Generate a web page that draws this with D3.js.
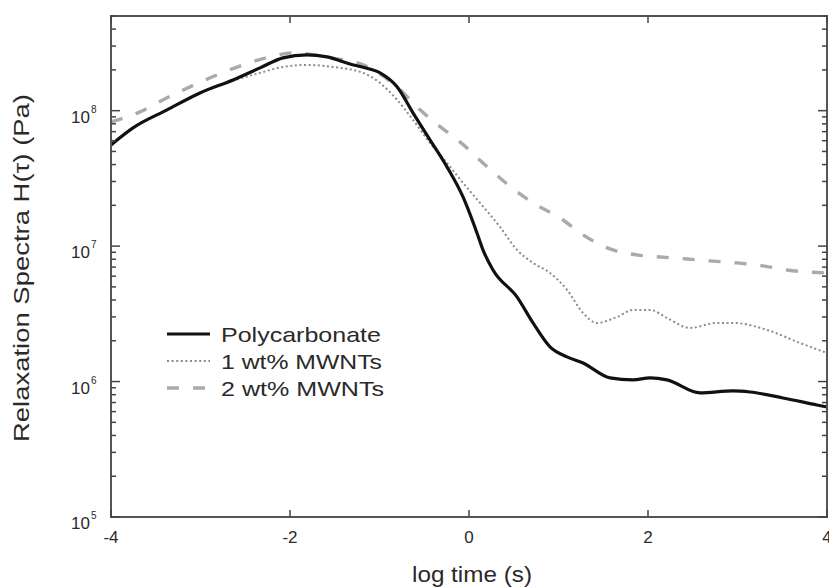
<!DOCTYPE html>
<html><head><meta charset="utf-8">
<script src="https://cdn.jsdelivr.net/npm/d3@7"></script>
<style>body{margin:0;background:#fff}svg{display:block}text{font-family:"Liberation Sans",Arial,sans-serif;fill:#2a2a2a}</style>
</head><body>
<svg id="c" width="829" height="588"></svg>
<script>
const seriesNames = ["Polycarbonate", "1 wt% MWNTs", "2 wt% MWNTs"];
const xTicks = [-4, -2, 0, 2, 4];
const yDecades = [5, 6, 7, 8];
// log time, log10 H
const pcX = [-4.0,-3.754,-3.374,-3.006,-2.637,-2.335,-2.078,-1.810,-1.587,-1.330,-1.184,-0.994,-0.804,-0.626,-0.436,-0.246,-0.067,0.089,0.156,0.268,0.536,0.715,0.905,1.095,1.274,1.575,1.832,2.022,2.212,2.581,2.950,3.140,3.508,3.888,4.0];
const pcY = [7.747,7.873,8.006,8.131,8.227,8.316,8.390,8.412,8.397,8.345,8.320,8.279,8.176,7.984,7.784,7.585,7.363,7.097,6.972,6.824,6.625,6.433,6.256,6.182,6.137,6.027,6.012,6.027,6.012,5.916,5.931,5.923,5.879,5.827,5.812];
const w1X = [-4.0,-3.754,-3.374,-3.006,-2.637,-2.335,-2.078,-1.810,-1.520,-1.184,-0.994,-0.804,-0.626,-0.436,-0.246,-0.067,0.123,0.346,0.536,0.715,0.905,1.095,1.274,1.430,1.654,1.832,2.022,2.212,2.469,2.771,2.950,3.330,3.698,4.0];
const w1Y = [7.747,7.873,8.006,8.128,8.220,8.279,8.323,8.338,8.323,8.279,8.205,8.080,7.932,7.762,7.614,7.467,7.319,7.142,6.972,6.876,6.802,6.677,6.507,6.433,6.477,6.529,6.529,6.470,6.396,6.433,6.433,6.381,6.285,6.211];
const w2X = [-4.0,-3.676,-3.374,-3.095,-2.816,-2.525,-2.223,-1.966,-1.553,-1.184,-0.804,-0.547,-0.246,-0.101,0.156,0.425,0.715,1.017,1.274,1.575,1.877,2.134,2.436,2.693,2.994,3.285,3.553,3.777,4.0];
const w2Y = [7.917,7.991,8.095,8.183,8.264,8.338,8.397,8.427,8.390,8.338,8.176,8.006,7.843,7.770,7.614,7.459,7.319,7.209,7.083,6.979,6.935,6.920,6.905,6.891,6.876,6.854,6.824,6.809,6.802];

const svg = d3.select("#c");
const L = 111, R = 827, T = 16, B = 517;
const x = d3.scaleLinear().domain([-4, 4]).range([L, R]);
const y = d3.scaleLog().domain([1e5, 5e8]).range([B, T]);

const styles = [
  {stroke: "#111", w: 3.2, dash: null},
  {stroke: "#8a8a8a", w: 2, dash: "2,2.6"},
  {stroke: "#aaa", w: 3.4, dash: "12,14"}
];

// lines
const line = d3.line().x(d => x(d[0])).y(d => y(Math.pow(10, d[1]))).curve(d3.curveMonotoneX);
const series = [
  {xs: w2X, ys: w2Y, s: styles[2]},
  {xs: w1X, ys: w1Y, s: styles[1]},
  {xs: pcX, ys: pcY, s: styles[0]}
];
const g = svg.append("g");
series.forEach(d => {
  g.append("path").datum(d.xs.map((v, i) => [v, d.ys[i]]))
    .attr("d", line).attr("fill", "none").attr("stroke", d.s.stroke)
    .attr("stroke-width", d.s.w).attr("stroke-dasharray", d.s.dash)
    .attr("stroke-linejoin", "round");
});

// frame
svg.append("rect").attr("x", L).attr("y", T).attr("width", R - L).attr("height", B - T)
  .attr("fill", "none").attr("stroke", "#555").attr("stroke-width", 2);

// x ticks
const ax = svg.append("g").attr("stroke", "#444").attr("stroke-width", 1.5);
xTicks.forEach(t => {
  ax.append("line").attr("x1", x(t)).attr("x2", x(t)).attr("y1", B).attr("y2", B - 7);
  ax.append("line").attr("x1", x(t)).attr("x2", x(t)).attr("y1", T).attr("y2", T + 7);
});
// y ticks
const yTickVals = [];
for (let d = 5; d <= 8; d++) for (let m = 1; m <= 9; m++) { const v = m * Math.pow(10, d); if (v <= 5e8) yTickVals.push(v); }
yTickVals.forEach(v => {
  const major = Math.abs(Math.log10(v) - Math.round(Math.log10(v))) < 1e-9;
  const len = major ? 9 : 5;
  ax.append("line").attr("x1", L).attr("x2", L + len).attr("y1", y(v)).attr("y2", y(v));
  ax.append("line").attr("x1", R).attr("x2", R - len).attr("y1", y(v)).attr("y2", y(v));
});

// x labels
xTicks.forEach(t => {
  svg.append("text").attr("x", x(t)).attr("y", 543).attr("text-anchor", "middle")
    .attr("font-size", 17).text(t < 0 ? "-" + Math.abs(t) : t);
});
// y labels
yDecades.forEach(d => {
  const yy = y(Math.pow(10, d));
  svg.append("text").attr("x", 90).attr("y", yy + 12).attr("text-anchor", "end").attr("font-size", 17).text("10");
  svg.append("text").attr("x", 91).attr("y", yy + 2).attr("font-size", 10).text(d);
});

// axis titles
svg.append("text").attr("x", 472).attr("y", 582).attr("text-anchor", "middle").attr("font-size", 22)
  .attr("textLength", 120).attr("lengthAdjust", "spacingAndGlyphs").text("log time (s)");
svg.append("text").attr("transform", "translate(29,268) rotate(-90)").attr("text-anchor", "middle")
  .attr("font-size", 21.5).attr("textLength", 348).attr("lengthAdjust", "spacingAndGlyphs")
  .text("Relaxation Spectra H(τ) (Pa)");

// legend
const legendLen = [160, 161, 163];
seriesNames.forEach((name, i) => {
  const yy = 334 + i * 27;
  const s = styles[i];
  svg.append("line").attr("x1", 167).attr("x2", 210).attr("y1", yy).attr("y2", yy)
    .attr("stroke", s.stroke).attr("stroke-width", s.w).attr("stroke-dasharray", s.dash);
  svg.append("text").attr("x", 221).attr("y", yy + 7.5).attr("font-size", 21)
    .attr("textLength", legendLen[i]).attr("lengthAdjust", "spacingAndGlyphs").text(name);
});
</script>
</body></html>
